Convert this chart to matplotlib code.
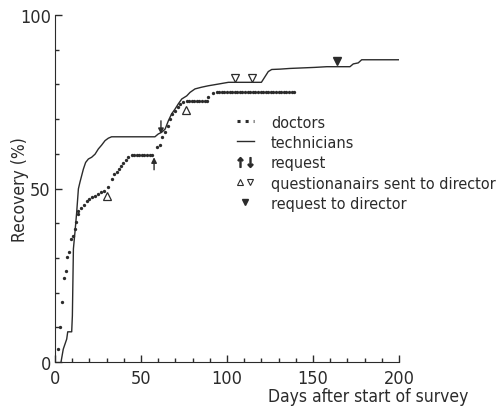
import matplotlib
matplotlib.use("Agg")
import matplotlib.pyplot as plt
from matplotlib.lines import Line2D
from matplotlib.legend_handler import HandlerTuple

# doctors: individual returns (days, cumulative recovery %)
doc_days = [1.9, 3.1, 3.9, 5.2, 6.2, 7.2, 8.1, 9.3, 10.5, 11.4, 12.4, 13.2, 13.6,
            15.1, 16.7, 18.4, 20.0, 21.7, 23.3, 24.8, 26.7, 28.7, 31.0, 33.3,
            34.5, 35.8, 37.2, 38.4, 39.7, 41.1, 42.6, 44.6, 46.0, 47.5, 49.0,
            50.5, 52.0, 53.5, 55.0, 56.5, 59.1, 61.0, 62.0, 64.0, 65.5, 66.9,
            67.8, 69.8, 71.3, 72.7, 74.6, 76.6, 78.0, 79.5, 81.0, 82.5, 84.0,
            85.5, 87.0, 88.2, 89.1, 92.0, 94.0, 95.5, 97.0, 98.5, 100.0, 101.5,
            103.0, 104.5, 106.0, 107.5, 109.0, 110.5, 112.0, 113.5, 115.0,
            116.5, 118.0, 119.5, 121.0, 122.5, 124.0, 125.5, 127.0, 128.5,
            130.0, 131.5, 133.0, 134.5, 136.0, 137.5, 139.0]
doc_vals = [3.7, 10.2, 17.4, 24.1, 26.2, 30.3, 31.6, 35.4, 36.4, 38.3, 40.3, 42.6,
            43.6, 44.3, 45.2, 46.5, 47.0, 47.5, 47.9, 48.4, 48.9, 49.4, 50.3,
            52.7, 54.2, 54.8, 55.6, 56.6, 57.3, 58.2, 59.0, 59.7, 59.7, 59.7,
            59.7, 59.7, 59.7, 59.7, 59.7, 59.7, 61.9, 62.5, 64.8, 66.2, 67.9,
            70.0, 71.5, 72.4, 73.4, 74.4, 75.0, 75.3, 75.3, 75.3, 75.3, 75.3,
            75.3, 75.3, 75.3, 75.3, 76.3, 77.5, 77.9, 77.9, 77.9, 77.9, 77.9,
            77.9, 77.9, 77.9, 77.9, 77.9, 77.9, 77.9, 77.9, 77.9, 77.9, 77.9,
            77.9, 77.9, 77.9, 77.9, 77.9, 77.9, 77.9, 77.9, 77.9, 77.9, 77.9,
            77.9, 77.9, 77.9, 77.9]

# technicians: cumulative recovery curve
tech_days = [3.5, 4.8, 6.8, 7.4, 9.7, 10.1, 10.7, 11.6, 12.6, 13.6, 14.5, 16.5,
             17.8, 19.4, 21.3, 23.3, 25.2, 27.1, 29.1, 31.0, 32.9, 58.1, 60.0,
             62.0, 64.0, 65.9, 67.8, 69.8, 71.7, 73.7, 76.6, 78.5, 81.4, 85.3,
             89.1, 95.0, 100.8, 120.0, 124.0, 126.0, 130.8, 136.6, 151.0,
             158.0, 171.5, 173.4, 176.3, 178.3, 199.6]
tech_vals = [0.0, 3.7, 6.6, 8.7, 8.7, 13.3, 32.6, 37.4, 43.1, 49.9, 51.8, 55.6,
             57.5, 58.5, 59.0, 59.9, 61.4, 62.5, 63.8, 64.5, 64.9, 64.9, 65.7,
             66.2, 67.1, 69.5, 71.5, 72.9, 74.4, 75.8, 76.7, 77.7, 78.7, 79.2,
             79.6, 80.1, 80.6, 80.6, 83.7, 84.3, 84.4, 84.6, 84.9, 85.1, 85.1,
             85.9, 86.2, 87.1, 87.1]

# event markers
req_up = (57.6, 55.4, 59.0)      # day, tail, head
req_down = (61.6, 69.5, 65.7)
quest_up_days = [30.0, 76.2]
quest_up_vals = [47.7, 72.6]
quest_down_days = [104.7, 114.5]
quest_down_vals = [81.9, 81.9]
dir_days = [163.8]
dir_vals = [86.6]

ink = "#2b2b2b"
plt.rcParams["font.family"] = ["DejaVu Sans"]
plt.rcParams["font.stretch"] = "condensed"

fig = plt.figure(figsize=(4.97, 4.10), dpi=100)
ax = fig.add_axes([55 / 497, 1 - 363 / 410, 344 / 497, 347 / 410])

ax.plot(tech_days, tech_vals, color=ink, lw=1.0)
ax.plot(doc_days, doc_vals, ls="none", marker="o", ms=2.4, color=ink, mew=0)

for d, t, h in (req_up, req_down):
    ax.annotate("", xy=(d, h), xytext=(d, t),
                arrowprops=dict(arrowstyle="-|>", color=ink, lw=1.0,
                                mutation_scale=8, shrinkA=0, shrinkB=0))
ax.plot(quest_up_days, quest_up_vals, ls="none", marker="^", ms=5.5,
        mfc="white", mec=ink, mew=0.9)
ax.plot(quest_down_days, quest_down_vals, ls="none", marker="v", ms=5.5,
        mfc="white", mec=ink, mew=0.9)
ax.plot(dir_days, dir_vals, ls="none", marker="v", ms=5.5, color=ink)

ax.set_xlim(0, 200)
ax.set_ylim(0, 100)
for s in ("top", "right"):
    ax.spines[s].set_visible(False)
for s in ("left", "bottom"):
    ax.spines[s].set_color(ink)

ax.set_xticks([0, 50, 100, 150, 200])
ax.set_xticks(range(0, 201, 10), minor=True)
ax.set_yticks([0, 50, 100])
ax.set_yticks(range(0, 101, 10), minor=True)
ax.tick_params(which="both", direction="in", color=ink, width=1.0,
               labelcolor=ink, labelsize=13)
ax.tick_params(which="major", length=5)
ax.tick_params(which="minor", length=3)
ax.tick_params(axis="x", pad=5)
ax.tick_params(axis="y", pad=3)

fig.text(468 / 497, 1 - 397 / 410, "Days after start of survey", ha="right",
         va="center", fontsize=12.5, color=ink)
fig.text(20 / 497, 1 - 190 / 410, "Recovery (%)", rotation=90, ha="center",
         va="center", fontsize=12.5, color=ink)

handles = [
    Line2D([], [], ls=":", lw=2.2, color=ink),
    Line2D([], [], ls="-", lw=1.0, color=ink),
    (Line2D([], [], ls="none", marker=r"$\uparrow$", ms=7, color=ink),
     Line2D([], [], ls="none", marker=r"$\downarrow$", ms=7, color=ink)),
    (Line2D([], [], ls="none", marker="^", ms=4, mfc="white", mec=ink, mew=0.8),
     Line2D([], [], ls="none", marker="v", ms=4, mfc="white", mec=ink, mew=0.8)),
    Line2D([], [], ls="none", marker="v", ms=5, color=ink),
]
labels = ["doctors", "technicians", "request",
          "questionanairs sent to director", "request to director"]
leg = ax.legend(handles, labels, loc="upper left",
                bbox_to_anchor=(105.8, 71.3), bbox_transform=ax.transData,
                frameon=False, borderpad=0, borderaxespad=0,
                handlelength=1.05, handletextpad=1.05, labelspacing=0.33,
                prop={"size": 11.6},
                handler_map={tuple: HandlerTuple(ndivide=None, pad=0.2)})
for t in leg.get_texts():
    t.set_color(ink)

fig.savefig("out.png", dpi=100, facecolor="white")
